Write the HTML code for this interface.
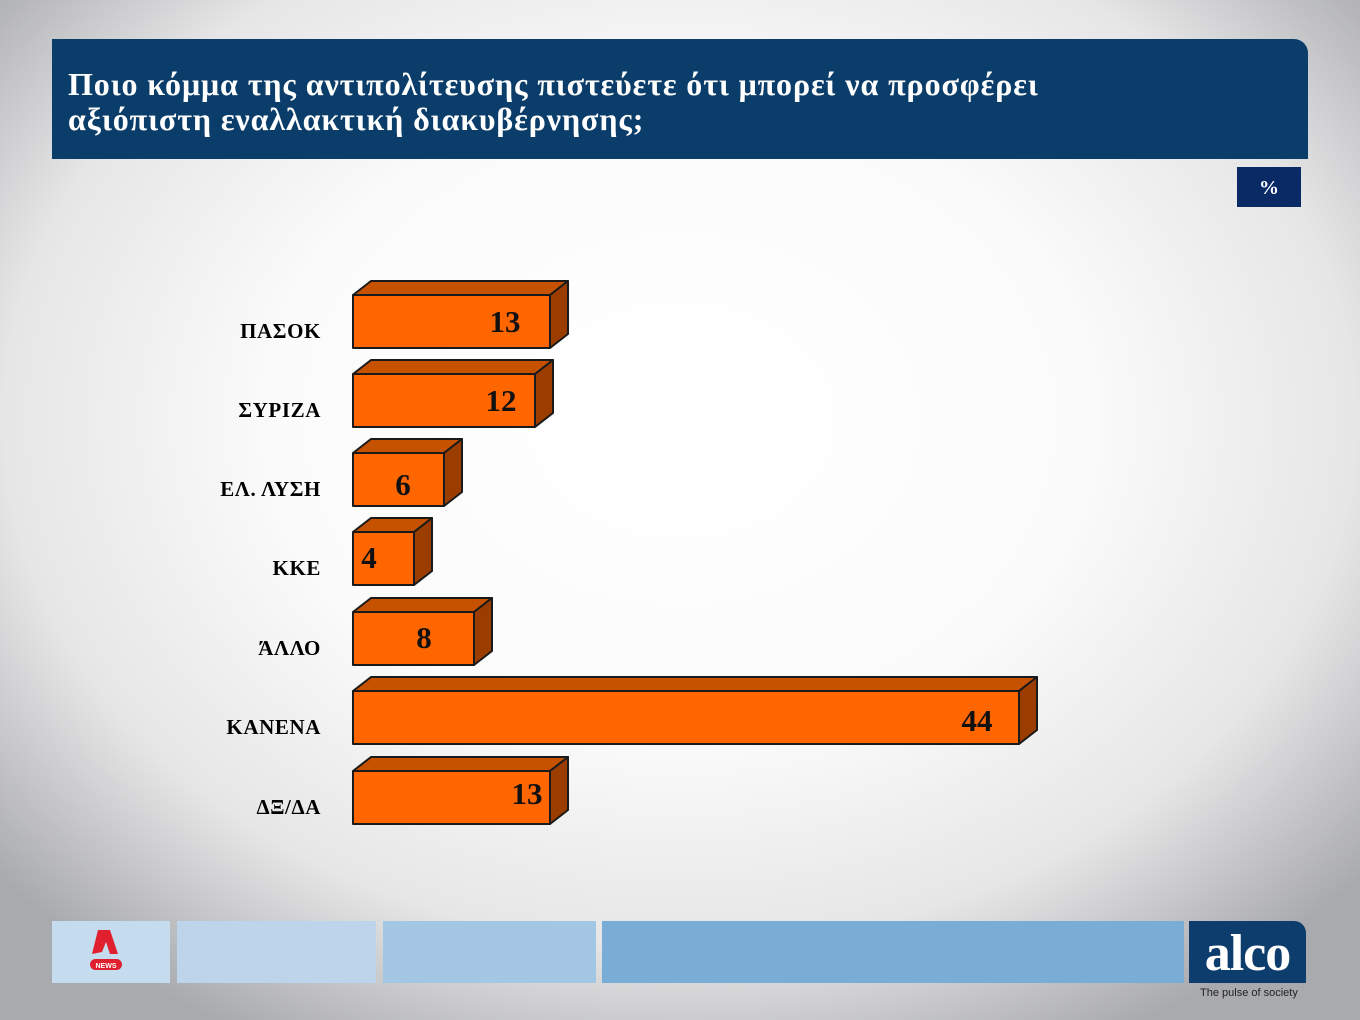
<!DOCTYPE html>
<html><head><meta charset="utf-8"><style>
body{margin:0}
#c{position:relative;width:1360px;height:1020px;overflow:hidden;background:radial-gradient(ellipse 900px 700px at 680px 420px,#ffffff 0%,#fbfbfb 45%,#e6e6e7 75%,#a9aaad 100%);font-family:"Liberation Serif",serif}
.hd{position:absolute;left:52px;top:39px;width:1256px;height:120px;background:#0b3d6b;border-top-right-radius:14px}
.hd div{position:absolute;left:16px;top:28px;color:#fff;font-weight:bold;font-size:32px;line-height:35px;letter-spacing:0.9px;white-space:nowrap}
.pc{position:absolute;left:1237px;top:167px;width:64px;height:40px;background:#0a2a66;color:#fff;font-weight:bold;font-size:20px;text-align:center;line-height:42px}
.lb{position:absolute;right:1039px;font-weight:bold;font-size:21px;color:#000;white-space:nowrap;letter-spacing:0.6px}
.f{position:absolute;top:921px;height:62px}
</style></head><body><div id="c">
<div class="hd"><div>Ποιο κόμμα της αντιπολίτευσης πιστεύετε ότι μπορεί να προσφέρει<br>αξιόπιστη εναλλακτική διακυβέρνησης;</div></div>
<div class="pc">%</div>
<div class="lb" style="top:319px">ΠΑΣΟΚ</div>
<div class="lb" style="top:398px">ΣΥΡΙΖΑ</div>
<div class="lb" style="top:477px">ΕΛ. ΛΥΣΗ</div>
<div class="lb" style="top:556px">ΚΚΕ</div>
<div class="lb" style="top:636px">ΆΛΛΟ</div>
<div class="lb" style="top:715px">ΚΑΝΕΝΑ</div>
<div class="lb" style="top:795px">ΔΞ/ΔΑ</div>
<svg width="1360" height="1020" style="position:absolute;left:0;top:0" font-family="Liberation Serif" font-weight="bold" font-size="31">
<g stroke="#1a1a1a" stroke-width="2" stroke-linejoin="round">
<g><polygon points="353,295 371,281 568,281 550,295" fill="#c65200"/><polygon points="550,295 568,281 568,334 550,348" fill="#9c3d00"/><rect x="353" y="295" width="197" height="53" fill="#ff6600"/></g>
<g><polygon points="353,374 371,360 553,360 535,374" fill="#c65200"/><polygon points="535,374 553,360 553,413 535,427" fill="#9c3d00"/><rect x="353" y="374" width="182" height="53" fill="#ff6600"/></g>
<g><polygon points="353,453 371,439 462,439 444,453" fill="#c65200"/><polygon points="444,453 462,439 462,492 444,506" fill="#9c3d00"/><rect x="353" y="453" width="91" height="53" fill="#ff6600"/></g>
<g><polygon points="353,532 371,518 432,518 414,532" fill="#c65200"/><polygon points="414,532 432,518 432,571 414,585" fill="#9c3d00"/><rect x="353" y="532" width="61" height="53" fill="#ff6600"/></g>
<g><polygon points="353,612 371,598 492,598 474,612" fill="#c65200"/><polygon points="474,612 492,598 492,651 474,665" fill="#9c3d00"/><rect x="353" y="612" width="121" height="53" fill="#ff6600"/></g>
<g><polygon points="353,691 371,677 1037,677 1019,691" fill="#c65200"/><polygon points="1019,691 1037,677 1037,730 1019,744" fill="#9c3d00"/><rect x="353" y="691" width="666" height="53" fill="#ff6600"/></g>
<g><polygon points="353,771 371,757 568,757 550,771" fill="#c65200"/><polygon points="550,771 568,757 568,810 550,824" fill="#9c3d00"/><rect x="353" y="771" width="197" height="53" fill="#ff6600"/></g>
</g>
<g fill="#111">
<text x="505" y="332" text-anchor="middle">13</text>
<text x="501" y="411" text-anchor="middle">12</text>
<text x="403" y="495" text-anchor="middle">6</text>
<text x="369" y="568" text-anchor="middle">4</text>
<text x="424" y="648" text-anchor="middle">8</text>
<text x="977" y="731" text-anchor="middle">44</text>
<text x="527" y="804" text-anchor="middle">13</text>
</g>
</svg>
<div class="f" style="left:52px;width:118px;background:#c5dcef"></div>
<div class="f" style="left:177px;width:199px;background:#bdd5ea"></div>
<div class="f" style="left:383px;width:213px;background:#a3c6e4"></div>
<div class="f" style="left:602px;width:582px;background:#7aadd6"></div>
<div class="f" style="left:1189px;width:117px;background:#0d3d6d;border-top-right-radius:12px;color:#fff;font-size:52px;font-weight:bold;text-align:center;line-height:66px;letter-spacing:-1px">alco</div>
<div style="position:absolute;left:1200px;top:987px;font-family:'Liberation Sans',sans-serif;font-size:11px;color:#222">The pulse of society</div>
<svg width="40" height="44" style="position:absolute;left:88px;top:928px"><path d="M4 26 L10 2 L22 2 L30 26 L22 26 L18 14 L14 24 Z" fill="#e0202e"/><rect x="2" y="31" width="32" height="11" rx="5.5" fill="#e0202e"/><text x="18" y="40" font-size="7" font-weight="bold" fill="#fff" text-anchor="middle" font-family="Liberation Sans">NEWS</text></svg>
</div></body></html>
